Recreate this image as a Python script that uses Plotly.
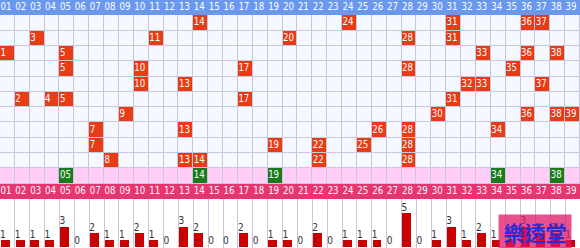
import plotly.graph_objects as go
from plotly.subplots import make_subplots

# ---------------- data ----------------
numbers = list(range(1, 40))
header_labels = [f"{n:02d}" for n in numbers]
draws = [
    [14, 24, 31, 36, 37],
    [3, 11, 20, 28, 31],
    [1, 5, 33, 36, 38],
    [5, 10, 17, 28, 35],
    [10, 13, 32, 33, 37],
    [2, 4, 5, 17, 31],
    [9, 30, 36, 38, 39],
    [7, 13, 26, 28, 34],
    [7, 19, 22, 25, 28],
    [8, 13, 14, 22, 28],
]
picks = [5, 14, 19, 34, 38]
counts = [1, 1, 1, 1, 3, 0, 2, 1, 1, 2, 1, 0, 3, 2, 0, 0, 2, 0, 1, 1,
          0, 2, 0, 1, 1, 1, 0, 5, 0, 1, 3, 1, 2, 1, 1, 3, 2, 2, 1]
watermark = "樂透堂"

# ---------------- styles ----------------
C_HEAD1 = "#6a98ec"
C_HEAD2 = "#e6356f"
C_PLAIN = "#f5f8fe"
C_RED = "#e83c16"
C_PINK = "#ffcdf6"
C_GREEN = "#1b7a1b"
C_LINE = "#c6c7de"
C_BAR = "#c80000"
FONT = "DejaVu Sans Condensed"
FS = 9.6

n_rows = len(draws) + 3          # header, draws, picks row, header
pink_row = len(draws) + 1
head2_row = len(draws) + 2
rows = list(range(n_rows))

fig = make_subplots(rows=2, cols=1, shared_xaxes=True, vertical_spacing=0,
                    row_heights=[199, 49])

# header backgrounds
z_head = []
for r in rows:
    if r == 0:
        z_head.append([0] * len(numbers))
    elif r == head2_row:
        z_head.append([1] * len(numbers))
    else:
        z_head.append([None] * len(numbers))
fig.add_trace(go.Heatmap(x=numbers, y=rows, z=z_head, zmin=0, zmax=1,
                         colorscale=[[0, C_HEAD1], [1, C_HEAD2]],
                         showscale=False, hoverinfo="skip"), row=1, col=1)

# grid line underlay
z_under = [[0] * len(numbers) if 0 < r < head2_row else [None] * len(numbers)
           for r in rows]
fig.add_trace(go.Heatmap(x=numbers, y=rows, z=z_under, zmin=0, zmax=1,
                         colorscale=[[0, C_LINE], [1, C_LINE]],
                         showscale=False, hoverinfo="skip"), row=1, col=1)

# body cells
z_body = []
for r in rows:
    if r == 0 or r == head2_row:
        z_body.append([None] * len(numbers))
    elif r == pink_row:
        z_body.append([3 if n in picks else 2 for n in numbers])
    else:
        d = draws[r - 1]
        z_body.append([1 if n in d else 0 for n in numbers])
fig.add_trace(go.Heatmap(x=numbers, y=rows, z=z_body, zmin=0, zmax=3,
                         xgap=1, ygap=1,
                         colorscale=[[0, C_PLAIN], [1 / 3, C_RED],
                                     [2 / 3, C_PINK], [1, C_GREEN]],
                         showscale=False, hoverinfo="skip"), row=1, col=1)

OFF = -0.47
# header texts
for r in (0, head2_row):
    fig.add_trace(go.Scatter(x=[n + OFF for n in numbers], y=[r] * len(numbers),
                             mode="text", text=header_labels,
                             textposition="middle right",
                             textfont=dict(family=FONT, size=FS, color="white"),
                             hoverinfo="skip", showlegend=False), row=1, col=1)

# draw numbers
tx, ty, tt = [], [], []
for i, d in enumerate(draws):
    for n in d:
        tx.append(n + OFF)
        ty.append(i + 1)
        tt.append(str(n))
fig.add_trace(go.Scatter(x=tx, y=ty, mode="text", text=tt,
                         textposition="middle right",
                         textfont=dict(family=FONT, size=FS, color="white"),
                         hoverinfo="skip", showlegend=False), row=1, col=1)

# picks
fig.add_trace(go.Scatter(x=[n + OFF for n in picks], y=[pink_row] * len(picks),
                         mode="text", text=[f"{n:02d}" for n in picks],
                         textposition="middle right",
                         textfont=dict(family=FONT, size=FS, color="white"),
                         hoverinfo="skip", showlegend=False), row=1, col=1)

# bars
fig.add_trace(go.Bar(x=numbers, y=counts, width=0.6, offset=-0.45,
                     marker=dict(color=C_BAR, line=dict(width=0)),
                     hoverinfo="skip", showlegend=False), row=2, col=1)
fig.add_trace(go.Scatter(x=[n - 0.5 for n in numbers], y=counts, mode="text",
                         text=[str(c) for c in counts],
                         textposition="top right",
                         textfont=dict(family=FONT, size=FS + 0.4, color="#333333"),
                         hoverinfo="skip", showlegend=False), row=2, col=1)

bounds = [n - 0.5 for n in numbers] + [numbers[-1] + 0.5]
fig.update_xaxes(range=[0.5, 39.5], showticklabels=False, zeroline=False,
                 ticks="", showline=False)
fig.update_xaxes(showgrid=False, row=1, col=1)
fig.update_xaxes(showgrid=True, tickvals=bounds, gridcolor=C_LINE, gridwidth=1,
                 row=2, col=1)
fig.update_yaxes(range=[n_rows - 0.5, -0.5], visible=False, row=1, col=1)
fig.update_yaxes(range=[-0.2, 7.15], visible=False, row=2, col=1)

fig.add_annotation(text=f"<b>{watermark}</b>", xref="paper", yref="paper",
                   x=535 / 580, y=(248 - 231.5) / 248, showarrow=False,
                   xanchor="center", yanchor="middle",
                   width=70, height=31, bgcolor="rgba(222,22,102,0.74)",
                   font=dict(family="Noto Sans CJK TC", size=21, color="#2b2bd2"))

fig.update_layout(width=580, height=248, margin=dict(l=0, r=0, t=0, b=0),
                  paper_bgcolor="white", plot_bgcolor="white",
                  showlegend=False, bargap=0)

fig.write_html("out.html")
